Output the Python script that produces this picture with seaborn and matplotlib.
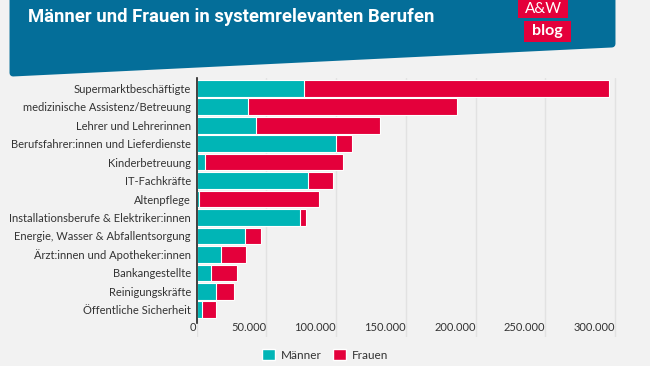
import numpy as np
import pandas as pd
import seaborn as sns
import matplotlib.pyplot as plt
from matplotlib.patches import Polygon, Rectangle, Patch

# === Daten ===
berufe = [
    "Supermarktbeschäftigte",
    "medizinische Assistenz/Betreuung",
    "Lehrer und Lehrerinnen",
    "Berufsfahrer:innen und Lieferdienste",
    "Kinderbetreuung",
    "IT-Fachkräfte",
    "Altenpflege",
    "Installationsberufe & Elektriker:innen",
    "Energie, Wasser & Abfallentsorgung",
    "Ärzt:innen und Apotheker:innen",
    "Bankangestellte",
    "Reinigungskräfte",
    "Öffentliche Sicherheit",
]
maenner = [77000, 37100, 42400, 100100, 5900, 80100, 1800, 74100, 34700, 17300, 10400, 14200, 3900]
frauen = [218600, 149600, 88800, 11000, 98800, 17800, 85900, 4300, 11500, 18100, 18400, 12600, 9800]
xticks = [0, 50000, 100000, 150000, 200000, 250000, 300000]

TEAL = "#00b5b6"
ROT = "#e4003b"
BLAU = "#046e99"
BG = "#f2f2f2"
TXT = "#333333"

df = pd.DataFrame({"beruf": berufe, "maenner": maenner, "frauen": frauen})
df["gesamt"] = df["maenner"] + df["frauen"]

sns.set_theme(style="white")
plt.rcParams["font.family"] = ["Lato", "DejaVu Sans"]

W, H = 650, 366
fig = plt.figure(figsize=(W / 100, H / 100), dpi=100, facecolor=BG)

def fx(x):
    return x / W

def fy(y):
    return 1 - y / H

ax = fig.add_axes([fx(196.5), fy(337), fx(643) - fx(196.5), fy(78) - fy(337)])
ax.set_facecolor(BG)

# Frauen als Gesamtbalken, Männer darüber
sns.barplot(data=df, y="beruf", x="gesamt", color=ROT, saturation=1, width=0.9,
            edgecolor="white", linewidth=0.8, orient="h", ax=ax, zorder=3)
sns.barplot(data=df, y="beruf", x="maenner", color=TEAL, saturation=1, width=0.9,
            edgecolor="white", linewidth=0.8, orient="h", ax=ax, zorder=4)

n = len(berufe)
ax.set_ylim(n - 1 + 1.48, -0.56)
ax.set_xlim(0, 320000)
ax.set_xticks(xticks)
ax.set_xticklabels([f"{v:,}".replace(",", ".") for v in xticks], ha="right")
ax.set_xlabel("")
ax.set_ylabel("")
ax.grid(axis="x", color="#e2e2e2", linewidth=1, zorder=0)
ax.grid(axis="y", visible=False)
for s in ["top", "right", "bottom"]:
    ax.spines[s].set_visible(False)
ax.spines["left"].set_color("#222222")
ax.spines["left"].set_linewidth(1.2)
ax.spines["left"].set_zorder(5)
ax.spines["left"].set_bounds(-0.56, n - 1 + 0.72)
ax.tick_params(axis="y", length=0, pad=4, labelsize=8, labelcolor=TXT)
ax.tick_params(axis="x", length=0, pad=-11, labelsize=8, labelcolor=TXT)

# === Banner ===
banner = Polygon([(fx(13), fy(-10)), (fx(612), fy(-10)), (fx(612), fy(44)), (fx(13), fy(73))],
                 closed=True, transform=fig.transFigure, facecolor=BLAU, edgecolor=BLAU,
                 linewidth=5, joinstyle="round", zorder=1)
fig.patches.append(banner)
fig.text(fx(28), fy(22), "Männer und Frauen in systemrelevanten Berufen", color="white",
         fontsize=13.3, fontweight="bold", va="baseline", ha="left",
         family=["Liberation Sans Narrow", "Roboto", "DejaVu Sans"], zorder=3)

# Logo
fig.patches.append(Rectangle((fx(518), fy(18)), fx(568) - fx(518), fy(0) - fy(18),
                             transform=fig.transFigure, facecolor=ROT, edgecolor="none",
                             linewidth=0, zorder=2))
fig.patches.append(Rectangle((fx(524), fy(42)), fx(571) - fx(524), fy(21) - fy(42),
                             transform=fig.transFigure, facecolor=ROT, edgecolor="none",
                             linewidth=0, zorder=2))
fig.text(fx(543), fy(9), "A&W", color="white", fontsize=11, ha="center", va="center", zorder=3)
fig.text(fx(547.5), fy(31), "blog", color="white", fontsize=11.5, fontweight="bold",
         ha="center", va="center", zorder=3)

# === Legende ===
handles = [Patch(facecolor=TEAL, label="Männer"), Patch(facecolor=ROT, label="Frauen")]
leg = fig.legend(handles=handles, loc="center", bbox_to_anchor=(fx(325), fy(355)), ncol=2,
                 frameon=False, fontsize=8.5, handlelength=1.1, handleheight=1.1,
                 handletextpad=0.5, columnspacing=1.0)
for t in leg.get_texts():
    t.set_color(TXT)

fig.savefig("out.png", dpi=100, facecolor=BG)
